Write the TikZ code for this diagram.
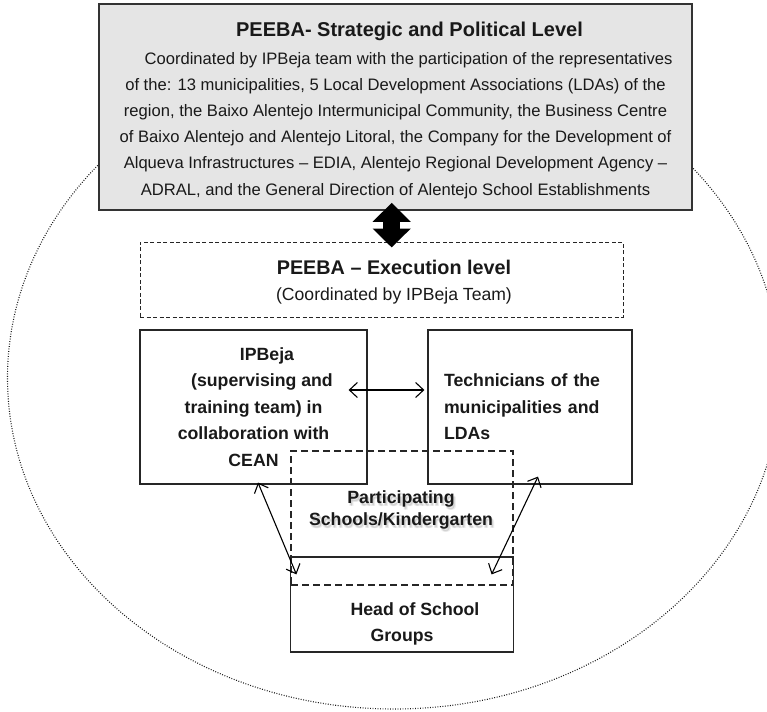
\documentclass[tikz,border=0pt]{standalone}
\usepackage{fontspec}
\setmainfont{Liberation Sans}
\usetikzlibrary{arrows.meta}

\begin{document}
\begin{tikzpicture}[x=1pt, y=-1pt,
  box/.style={draw=black!85, line width=1.2pt, inner sep=0pt},
  bodytxt/.style={font=\fontsize{17.7pt}{26.5pt}\selectfont\bfseries, align=center, inner sep=0pt, text=black!90},
  link/.style={line width=1.1pt, {Straight Barb[length=8pt,width=15pt]}-{Straight Barb[length=8pt,width=15pt]}},
  fat/.style={line width=17pt, {Triangle[width=37pt,length=19pt]}-{Triangle[width=37pt,length=19pt]}}]
  \useasboundingbox (0,0) rectangle (767,711);
  \clip (0,0) rectangle (767,711);
  \draw[black!90, line width=1.1pt, dash pattern=on 0.9pt off 1.6pt]
    (394,378) ellipse [x radius=386.5, y radius=331];

  \node[box, fill=black!10, draw=black!80, line width=1.6pt, minimum width=593pt, minimum height=206pt,
        align=center, font=\fontsize{16.6pt}{26.2pt}\selectfont, text=black!90] (strat) at (395.5,107)
    {\hspace*{28pt}{\fontsize{20pt}{26.2pt}\selectfont\bfseries\rule{0pt}{20.6pt}PEEBA- Strategic and Political Level}\\[1.8pt]
     \hspace*{26pt}Coordinated by IPBeja team with the participation of the representatives\\
     of the: 13 municipalities, 5 Local Development Associations (LDAs) of the\\
     region, the Baixo Alentejo Intermunicipal Community, the Business Centre\\
     of Baixo Alentejo and Alentejo Litoral, the Company for the Development of\\
     Alqueva Infrastructures -- EDIA, Alentejo Regional Development Agency --\\
     ADRAL, and the General Direction of Alentejo School Establishments};

  \node[box, line width=1pt, dash pattern=on 4pt off 2.5pt, minimum width=483pt, minimum height=75pt] (exec) at (381.5,279.5) {};
  \node[align=center, inner sep=0pt, text=black!90, font=\fontsize{17.6pt}{26pt}\selectfont] (exectxt) at (394,282)
    {{\fontsize{19.8pt}{26pt}\selectfont\bfseries PEEBA -- Execution level}\\(Coordinated by IPBeja Team)};

  \node[box, minimum width=227pt, minimum height=154pt, bodytxt] (ipbeja) at (253.5,407)
    {\hspace*{27pt}IPBeja\\\hspace*{17pt}(supervising and\\training team) in\\collaboration with\\CEAN};
  \node[box, minimum width=204pt, minimum height=154pt, bodytxt, align=left, text width=172pt] (tech) at (530,407)
    {\makebox[172pt][s]{Technicians of the}\\\makebox[172pt][s]{municipalities and}\\LDAs};

  \node[box, minimum width=223pt, minimum height=95pt] (head) at (402,604.5) {};
  \node[bodytxt] (headtxt) at (402,624) {\hspace*{26pt}Head of School\\Groups};
  \node[box, dash pattern=on 7pt off 4pt, minimum width=222pt, minimum height=134pt] (schools) at (402,518) {};
  \foreach \d [count=\i] in {{(1.5,2)}, {(2.5,3)}, {(1,3.5)}}
    \node[bodytxt, font=\fontsize{17.7pt}{22pt}\selectfont\bfseries, text=black, opacity=.07] (shade\i) at ([shift=\d]401,509.5)
      {Participating\\Schools/Kindergarten};
  \node[bodytxt, font=\fontsize{17.7pt}{22pt}\selectfont\bfseries] (schooltxt) at (401,509.5) {Participating\\Schools/Kindergarten};

  \draw[fat, shorten <=-8pt, shorten >=-6pt] ([xshift=-3.8pt]strat.south) -- ([xshift=10.2pt]exec.north);
  \draw[link] ([shift={(-19,-17)}]ipbeja.east) -- ([shift={(-3,-17)}]tech.west);
  \draw[link] ([shift={(4.5,-2)}]ipbeja.south) -- ([shift={(6.5,18)}]head.north west);
  \draw[link] ([shift={(8,-8)}]tech.south) -- ([shift={(-22.5,18)}]head.north east);
\end{tikzpicture}
\end{document}
